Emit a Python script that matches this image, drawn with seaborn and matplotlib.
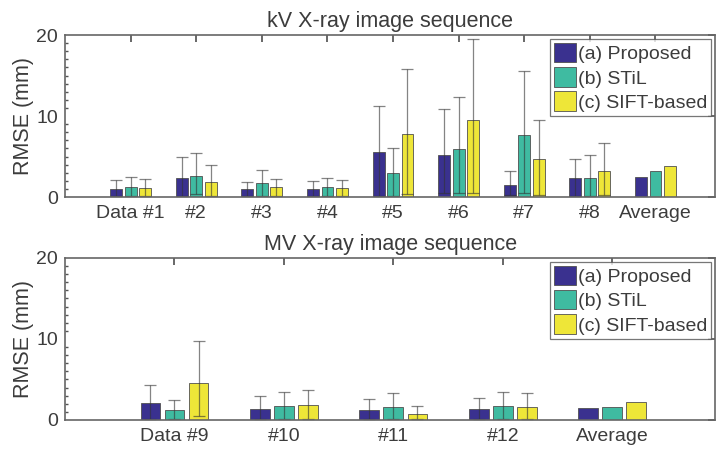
import numpy as np
import pandas as pd
import seaborn as sns
import matplotlib.pyplot as plt
from matplotlib.ticker import MultipleLocator

# ---- data ----
methods = ["(a) Proposed", "(b) STiL", "(c) SIFT-based"]

kv_labels = ["Data #1", "#2", "#3", "#4", "#5", "#6", "#7", "#8", "Average"]
kv_proposed = [1.0, 2.4, 0.95, 1.0, 5.6, 5.2, 1.55, 2.3, 2.5]
kv_stil = [1.2, 2.6, 1.75, 1.2, 3.0, 5.95, 7.65, 2.4, 3.2]
kv_sift = [1.1, 1.85, 1.2, 1.1, 7.75, 9.5, 4.65, 3.2, 3.8]
kv_proposed_hi = [2.05, 5.0, 1.9, 2.0, 11.25, 10.85, 3.25, 4.75, np.nan]
kv_stil_hi = [2.45, 5.5, 3.4, 2.4, 6.0, 12.3, 15.55, 5.2, np.nan]
kv_sift_hi = [2.2, 4.0, 2.25, 2.15, 15.8, 19.5, 9.5, 6.7, np.nan]
kv_proposed_lo = [0.1, 0.1, 0.1, 0.1, 0.1, 0.45, 0.2, 0.1, np.nan]
kv_stil_lo = [0.1, 0.35, 0.1, 0.1, 0.1, 0.45, 0.45, 0.1, np.nan]
kv_sift_lo = [0.1, 0.1, 0.1, 0.1, 0.35, 0.55, 0.3, 0.3, np.nan]

mv_labels = ["Data #9", "#10", "#11", "#12", "Average"]
mv_proposed = [2.15, 1.4, 1.25, 1.3, 1.5]
mv_stil = [1.2, 1.75, 1.65, 1.75, 1.55]
mv_sift = [4.6, 1.85, 0.8, 1.65, 2.2]
mv_proposed_hi = [4.3, 2.9, 2.65, 2.75, np.nan]
mv_stil_hi = [2.5, 3.5, 3.35, 3.5, np.nan]
mv_sift_hi = [9.7, 3.75, 1.7, 3.3, np.nan]
mv_proposed_lo = [0.1, 0.1, 0.1, 0.1, np.nan]
mv_stil_lo = [0.1, 0.1, 0.1, 0.1, np.nan]
mv_sift_lo = [0.55, 0.1, 0.1, 0.1, np.nan]

colors = ["#3a318f", "#3fbba1", "#eee638"]
txt = "#3c3c3c"

sns.set_theme(style="white")
plt.rcParams["font.family"] = ["Liberation Sans", "DejaVu Sans"]
plt.rcParams["text.color"] = txt
plt.rcParams["axes.labelcolor"] = txt
plt.rcParams["xtick.color"] = txt
plt.rcParams["ytick.color"] = txt

dpi = 100
fig = plt.figure(figsize=(716 / dpi, 449 / dpi), dpi=dpi)
ax1 = fig.add_axes([0.0908, 0.561, 0.908, 0.361])
ax2 = fig.add_axes([0.0908, 0.0646, 0.908, 0.361])


def draw(ax, labels, vals, his, los, title, right):
    df = pd.DataFrame({
        "cat": labels * 3,
        "method": sum([[m] * len(labels) for m in methods], []),
        "val": sum(vals, []),
    })
    sns.barplot(data=df, x="cat", y="val", hue="method", order=labels,
                hue_order=methods, palette=colors, width=0.66, gap=0.18,
                edgecolor="#505050", linewidth=0.6, saturation=1, ax=ax)
    for cont, v, hi, lo in zip(ax.containers, vals, his, los):
        xs = [p.get_x() + p.get_width() / 2 for p in cont.patches]
        v = np.array(v)
        yerr = np.vstack([v - np.array(lo), np.array(hi) - v])
        ax.errorbar(xs, v, yerr=yerr, fmt="none", ecolor="#333333",
                    alpha=0.6, elinewidth=0.9, capsize=4.5, capthick=0.9)
    ax.set_ylim(0, 20)
    ax.set_xlim(-1, right)
    ax.yaxis.set_major_locator(MultipleLocator(10))
    ax.yaxis.set_minor_locator(MultipleLocator(1))
    ax.tick_params(axis="both", which="both", direction="in", top=True,
                   right=True, labelsize=14, color="#555555")
    ax.tick_params(axis="y", which="major", length=5, pad=5)
    ax.tick_params(axis="y", which="minor", length=2.5, left=True, right=False)
    ax.tick_params(axis="x", length=5, bottom=False, pad=6)
    ax.set_xlabel("")
    ax.set_ylabel("RMSE (mm)", fontsize=15.5, labelpad=2)
    ax.set_title(title, fontsize=15.5, pad=6)
    for s in ax.spines.values():
        s.set_color("#666666")
        s.set_linewidth(1.2)
    leg = ax.legend(loc="upper right", fontsize=14, frameon=True,
                    fancybox=False, handlelength=1.1, handleheight=1.15,
                    handletextpad=0.1, borderpad=0.22, labelspacing=0.2,
                    borderaxespad=0.2)
    leg.get_frame().set_edgecolor("#555555")
    leg.get_frame().set_linewidth(0.9)


draw(ax1, kv_labels, [kv_proposed, kv_stil, kv_sift],
     [kv_proposed_hi, kv_stil_hi, kv_sift_hi],
     [kv_proposed_lo, kv_stil_lo, kv_sift_lo],
     "kV X-ray image sequence", 8.91)
draw(ax2, mv_labels, [mv_proposed, mv_stil, mv_sift],
     [mv_proposed_hi, mv_stil_hi, mv_sift_hi],
     [mv_proposed_lo, mv_stil_lo, mv_sift_lo],
     "MV X-ray image sequence", 4.94)

plt.savefig("out.png", dpi=dpi)
